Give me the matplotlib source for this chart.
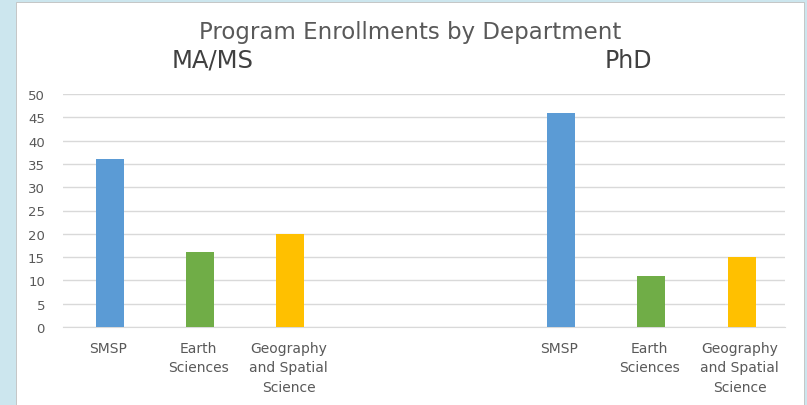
import matplotlib
matplotlib.use("Agg")
import matplotlib.pyplot as plt
from matplotlib.patches import Rectangle

categories = ["SMSP", "Earth\nSciences", "Geography\nand Spatial\nScience", "", "",
              "SMSP", "Earth\nSciences", "Geography\nand Spatial\nScience"]
values = [36, 16, 20, None, None, 46, 11, 15]
colors = ["#5B9BD5", "#70AD47", "#FFC000", "none", "none", "#5B9BD5", "#70AD47", "#FFC000"]
yticks = [0, 5, 10, 15, 20, 25, 30, 35, 40, 45, 50]

plt.rcParams['font.family'] = ['DejaVu Sans']
W, H = 807, 406
fig = plt.figure(figsize=(W / 100, H / 100), dpi=100)
fig.patch.set_facecolor("#CCE6EE")
fig.add_artist(Rectangle((16 / W, 0), (804 - 16) / W, (406 - 3) / H,
                         transform=fig.transFigure, facecolor="white",
                         edgecolor="#BFBFBF", linewidth=0.6, zorder=0))

ax = fig.add_axes([63 / W, 1 - 328 / H, (785 - 63) / W, (328 - 95) / H])
ax.set_facecolor("none")
x = list(range(len(categories)))
vals = [v if v is not None else 0 for v in values]
ax.bar([p + 0.02 for p in x], vals, width=0.31, color=colors, zorder=3)
ax.set_xlim(-0.5, len(categories) - 0.5)
ax.set_ylim(0, 50)
ax.set_yticks(yticks)
ax.yaxis.grid(True, color="#D9D9D9", linewidth=1)
ax.set_axisbelow(True)
for s in ["top", "right", "left"]:
    ax.spines[s].set_visible(False)
ax.spines["bottom"].set_color("#D9D9D9")
ax.tick_params(axis="y", length=0, labelcolor="#595959", labelsize=9.5, pad=13)
ax.tick_params(axis="x", length=0, labelcolor="#595959", labelsize=10, pad=10)
ax.set_xticks(x)
ax.set_xticklabels(categories, linespacing=1.5)

fig.text(410 / W, 1 - 32 / H, "Program Enrollments by Department", ha="center", va="center",
         fontsize=16.5, color="#595959")
fig.text(213 / W, 1 - 61 / H, "MA/MS", ha="center", va="center", fontsize=17.5, color="#404040")
fig.text(628 / W, 1 - 61 / H, "PhD", ha="center", va="center", fontsize=17, color="#404040")

fig.savefig("out.png", dpi=100, facecolor=fig.get_facecolor())
